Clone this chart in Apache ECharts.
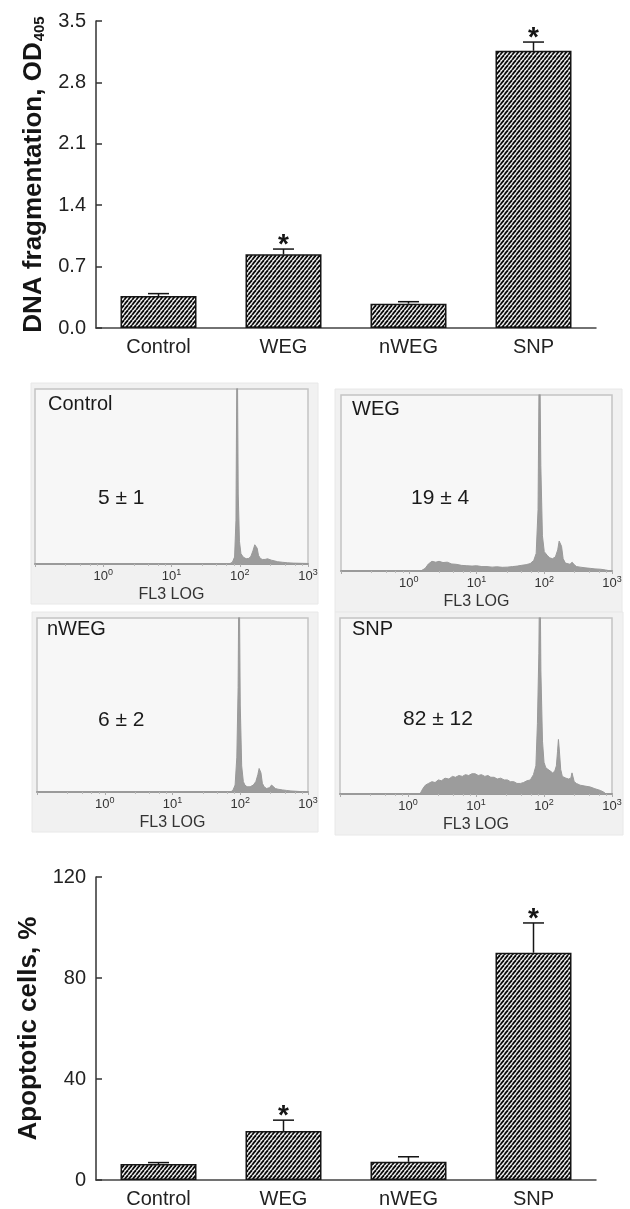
<!DOCTYPE html>
<html>
<head>
<meta charset="utf-8">
<style>
  html, body { margin: 0; padding: 0; background: #fff; }
  #chart { width: 630px; height: 1209px; }
</style>
<script src="https://cdn.jsdelivr.net/npm/echarts@6.0.0/dist/echarts.min.js"></script>
</head>
<body>
<div id="chart"></div>
<script>
// ---------- data ----------
var groups = ['Control', 'WEG', 'nWEG', 'SNP'];

// DNA fragmentation (OD405), upper error and significance star
var odMean = [0.365, 0.84, 0.277, 3.16];
var odErr = [0.027, 0.06, 0.023, 0.10];
var odAxis = [0, 3.5, 0.7];

// apoptotic cells, %
var apopMean = [6.3, 19.4, 7.2, 90];
var apopErr = [0.6, 4.3, 2.0, 11.8];
var apopAxis = [0, 120, 40];

var signif = [0, 1, 0, 1];

// flow cytometry panels: FL3 (log) vs. event count (100 = top of frame)
var flRange = [0.1, 1000];
var apopText = ['5 \u00b1 1', '19 \u00b1 4', '6 \u00b1 2', '82 \u00b1 12'];

var histControl = [[70, 0], [78, 1], [84, 4], [88, 25], [91.5, 140], [95, 40], [99, 13], [104, 6],
  [112, 4], [124, 3], [136, 3.2], [146, 4.5], [156, 7.5], [166, 11], [173, 12], [180, 9], [188, 5],
  [200, 3.2], [215, 2.6], [235, 2.6], [255, 3], [270, 2.4], [290, 2.2], [320, 1.8], [360, 1.3],
  [420, 1], [500, 0.7], [620, 0.5], [800, 0.4], [1000, 0.3]];

var histWEG = [[1.5, 0], [1.75, 1.5], [1.95, 4], [2.2, 5.5], [2.5, 5], [2.8, 5.5], [3.2, 4.8], [3.7, 5],
  [4.3, 4], [5, 3.8], [6, 3.2], [7.2, 3], [8.6, 2.8], [10, 3], [12, 2.5], [14.3, 2.5], [17, 2.2],
  [20, 2.4], [24, 2.1], [28.4, 2.2], [34, 2.5], [40, 2.8], [46, 3.2], [54, 3.6], [62, 4.2], [70, 6],
  [76, 10], [81, 35], [85, 140], [89, 60], [94, 20], [100, 11], [110, 9], [120, 7.5], [132, 7],
  [146, 8], [158, 12], [166, 17], [172, 18], [180, 14], [190, 7], [205, 4.5], [217, 4], [240, 3.8],
  [258, 5], [268, 5.5], [278, 3.5], [300, 2.5], [339, 2.2], [400, 1.8], [478, 1.5], [560, 1.2],
  [680, 1], [800, 0.6], [960, 0]];

var histNWEG = [[72, 0], [78, 1], [84, 4], [89, 20], [93, 60], [96, 140], [100, 50], [105, 15],
  [111, 6], [117, 4], [126, 3], [140, 3], [156, 4], [170, 6], [182, 10], [190, 13.5], [196, 14.5],
  [202, 11], [212, 5], [225, 3], [245, 2], [270, 2.5], [290, 4], [300, 5], [310, 3], [330, 2],
  [360, 1.6], [385, 1.5], [420, 1.2], [480, 0.9], [560, 0.6], [680, 0.4], [800, 0.2], [900, 0]];

var histSNP = [[1.5, 0], [1.65, 3], [1.8, 5], [2.0, 6], [2.25, 7], [2.5, 6.5], [2.8, 8], [3.1, 7.5],
  [3.5, 9], [4, 8.5], [4.5, 10], [5, 9.5], [5.6, 10.5], [6.3, 10], [7, 11], [7.8, 10.5], [8.7, 11.5],
  [9.7, 11.5], [10.8, 10.5], [12, 11], [13.5, 10], [15, 10.5], [16.5, 9.5], [18.5, 9.5], [20.5, 8.5],
  [23, 9], [26, 8], [29, 8], [32, 7], [36, 7], [40, 6], [45, 6], [50, 6.5], [56, 7.5], [63, 8],
  [70, 11], [76, 16], [80, 40], [84, 80], [87, 140], [90, 70], [95, 30], [100, 18], [106, 15],
  [114, 14], [124, 13], [134, 12], [144, 13], [152, 16], [158, 24], [163, 31], [168, 25], [176, 14],
  [186, 10], [196, 9.5], [210, 9], [230, 8.5], [248, 9], [258, 12], [266, 11], [278, 7], [300, 6],
  [340, 5], [400, 4.5], [478, 4], [560, 3], [676, 2], [760, 1], [820, 0]];

var hists = [histControl, histWEG, histNWEG, histSNP];

(function() {
  var FONT = '"Liberation Sans", Arial, Helvetica, sans-serif';
  var ink = '#151515';

  // diagonal hatch used for all bars
  function hatch() {
    var c = document.createElement('canvas');
    c.width = 4; c.height = 5;
    var g = c.getContext('2d');
    g.fillStyle = '#fff';
    g.fillRect(0, 0, 4, 5);
    g.strokeStyle = '#0d0d0d';
    g.lineWidth = 1.9;
    [-4, 0, 4].forEach(function(dx) {
      g.beginPath(); g.moveTo(dx, 5); g.lineTo(dx + 4, 0); g.stroke();
    });
    return c;
  }
  var hatchFill = { image: hatch(), repeat: 'repeat' };

  // error bar (upper half) + significance star
  function errItem(params, api) {
    var i = api.value(0), m = api.value(1), e = api.value(2), s = api.value(3);
    var b = api.coord([i, m]);
    var t = api.coord([i, m + e]);
    var kids = [
      { type: 'line', shape: { x1: b[0], y1: b[1], x2: t[0], y2: t[1] }, style: { stroke: ink, lineWidth: 1.5 } },
      { type: 'line', shape: { x1: t[0] - 10.5, y1: t[1], x2: t[0] + 10.5, y2: t[1] }, style: { stroke: ink, lineWidth: 1.5 } }
    ];
    if (s) {
      kids.push({ type: 'text', x: t[0], y: t[1] - 4,
        style: { text: '*', fontSize: 28, fontWeight: 'bold', fontFamily: FONT, fill: ink, align: 'center', verticalAlign: 'middle' } });
    }
    return { type: 'group', children: kids };
  }

  function errData(mean, err) {
    return groups.map(function(g, i) { return [i, mean[i], err[i], signif[i]]; });
  }

  // ========== layout of the 4 flow panels ==========
  var panels = [
    { grid: [35, 389, 273, 175], box: [31, 383, 287, 221], label: [48, 404], pct: [98, 498] },
    { grid: [341, 395, 271, 176], box: [335, 389, 287, 223], label: [352, 409], pct: [411, 498] },
    { grid: [37, 618, 271, 174], box: [32, 612, 286, 220], label: [47, 629], pct: [98, 720] },
    { grid: [340, 618, 272, 176], box: [335, 612, 288, 223], label: [352, 629], pct: [403, 719] }
  ];

  var grids = [
    { left: 96, top: 21, width: 500, height: 307 },
    { left: 96, top: 877, width: 500, height: 306 }
  ];
  var xAxes = [], yAxes = [], series = [], graphics = [];

  function barAxes(idx, ax, nameText, rich, gap, digits) {
    xAxes.push({
      type: 'category', gridIndex: idx, data: groups,
      axisLine: { lineStyle: { color: '#444', width: 1.5 } },
      axisTick: { show: false },
      axisLabel: { fontSize: 20, color: '#222', margin: 9, fontFamily: FONT }
    });
    yAxes.push({
      type: 'value', gridIndex: idx, min: ax[0], max: ax[1], interval: ax[2],
      name: nameText, nameLocation: 'middle', nameGap: gap,
      nameTextStyle: { fontSize: 26, fontWeight: 'bold', color: ink, fontFamily: FONT, rich: rich },
      axisLine: { show: true, lineStyle: { color: '#333', width: 1.5 } },
      axisTick: { show: true, inside: true, length: 6, lineStyle: { color: '#333', width: 1.5 } },
      splitLine: { show: false },
      axisLabel: { fontSize: 20, color: '#222', margin: 10, fontFamily: FONT,
        formatter: function(v) { return v.toFixed(digits); } }
    });
  }

  barAxes(0, odAxis, '{m|DNA fragmentation, OD}{sub|405}', {
    m: { fontSize: 26, fontWeight: 'bold', color: ink, fontFamily: FONT, lineHeight: 26, verticalAlign: 'top' },
    sub: { fontSize: 15, fontWeight: 'bold', color: ink, fontFamily: FONT, lineHeight: 15, verticalAlign: 'bottom', padding: [20, 0, 0, 1] }
  }, 45, 1);
  barAxes(1, apopAxis, 'Apoptotic cells, %', null, 50, 0);

  [[odMean, odErr], [apopMean, apopErr]].forEach(function(d, k) {
    series.push({
      type: 'bar', xAxisIndex: k, yAxisIndex: k, barWidth: 76, data: d[0],
      itemStyle: { color: hatchFill, borderColor: ink, borderWidth: 1.5 }
    });
    series.push({
      type: 'custom', xAxisIndex: k, yAxisIndex: k, z: 5, clip: false,
      renderItem: errItem, data: errData(d[0], d[1])
    });
  });

  // ========== flow cytometry histograms ==========
  panels.forEach(function(p, i) {
    var ai = i + 2;
    grids.push({ left: p.grid[0], top: p.grid[1], width: p.grid[2], height: p.grid[3],
      show: true, backgroundColor: '#f7f7f7', borderColor: '#c4c4c4', borderWidth: 1.5 });
    xAxes.push({
      type: 'log', logBase: 10, gridIndex: ai, min: flRange[0], max: flRange[1],
      name: 'FL3 LOG', nameLocation: 'middle', nameGap: 23,
      nameTextStyle: { fontSize: 16, color: '#333', fontFamily: FONT },
      axisLine: { lineStyle: { color: '#9a9a9a', width: 2 } },
      axisTick: { show: true, length: 3, lineStyle: { color: '#aaa' } },
      minorTick: { show: true, splitNumber: 5, length: 2, lineStyle: { color: '#bbb' } },
      splitLine: { show: false },
      axisLabel: {
        margin: 4,
        formatter: function(v) {
          var e = Math.round(Math.log10(v));
          return e < 0 ? '' : '{b|10}{s|' + e + '}';
        },
        rich: {
          b: { fontSize: 13, color: '#333', fontFamily: FONT, lineHeight: 15, verticalAlign: 'bottom' },
          s: { fontSize: 9, color: '#333', fontFamily: FONT, lineHeight: 9, verticalAlign: 'top', padding: [0, 0, 8, 0] }
        }
      }
    });
    yAxes.push({ type: 'value', gridIndex: ai, min: 0, max: 100, show: false, splitLine: { show: false } });
    series.push({
      type: 'line', xAxisIndex: ai, yAxisIndex: ai, data: hists[i], showSymbol: false, clip: true,
      lineStyle: { color: '#999', width: 1 }, areaStyle: { color: '#9c9c9c', opacity: 1 }
    });

    graphics.push({ type: 'rect', z: -10, shape: { x: p.box[0], y: p.box[1], width: p.box[2], height: p.box[3] },
      style: { fill: '#f1f1f1', stroke: '#e8e8e8' } });
    graphics.push({ type: 'text', z: 100, x: p.label[0], y: p.label[1],
      style: { text: groups[i], fontSize: 20, fontFamily: FONT, fill: '#1a1a1a', verticalAlign: 'middle' } });
    graphics.push({ type: 'text', z: 100, x: p.pct[0], y: p.pct[1],
      style: { text: apopText[i], fontSize: 21, fontFamily: FONT, fill: '#1a1a1a', verticalAlign: 'middle' } });
  });

  var chart = echarts.init(document.getElementById('chart'));
  chart.setOption({
    animation: false,
    backgroundColor: '#fff',
    textStyle: { fontFamily: FONT },
    grid: grids,
    xAxis: xAxes,
    yAxis: yAxes,
    series: series,
    graphic: graphics
  });
})();
</script>
</body>
</html>
